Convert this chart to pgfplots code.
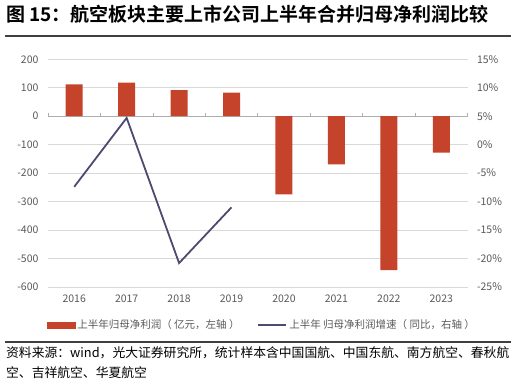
\documentclass[border=0pt]{standalone}
\usepackage{fontspec}
\usepackage{pgfplots}
\pgfplotsset{compat=1.18}
\setmainfont{Noto Sans CJK SC}[BoldFont={Noto Sans CJK SC Bold}]
\definecolor{barc}{HTML}{C5432A}
\definecolor{linec}{HTML}{4D4A70}
\definecolor{tickc}{HTML}{595959}
\definecolor{gridc}{HTML}{D9D9D9}
\definecolor{rulec}{HTML}{404040}
\begin{document}
\begin{tikzpicture}
\useasboundingbox (0,0) rectangle (516bp,381bp);
\node[anchor=west, inner sep=0, font=\fontsize{19bp}{21bp}\selectfont\bfseries] at (6bp,367bp) {图 15：航空板块主要上市公司上半年合并归母净利润比较};
\draw[rulec, line width=1.2bp] (5bp,345bp) -- (511bp,345bp);
\draw[rulec, line width=1.2bp] (5bp,39bp) -- (511bp,39bp);
\node[anchor=west, inner sep=0, font=\fontsize{12.8bp}{15bp}\selectfont] at (6bp,28bp) {资料来源：wind，光大证券研究所，统计样本含中国国航、中国东航、南方航空、春秋航};
\node[anchor=west, inner sep=0, font=\fontsize{12.8bp}{15bp}\selectfont] at (6bp,8bp) {空、吉祥航空、华夏航空};

\begin{axis}[
  at={(48bp,94bp)}, anchor=south west,
  scale only axis, width=419.5bp, height=227.7bp,
  xmin=-0.5, xmax=7.5, ymin=-600, ymax=200,
  xtick={0,...,7}, xticklabels={2016,2017,2018,2019,2020,2021,2022,2023},
  ytick={-600,-500,...,200},
  axis line style={draw=none}, major tick length=0,
  ymajorgrids, grid style={gridc, line width=0.8bp},
  tick label style={font=\fontsize{10.5bp}{12bp}\selectfont, text=tickc},
  /pgf/number format/assume math mode=true,
  yticklabel style={xshift=-6bp},
  xticklabel style={yshift=-4bp},
  clip=false,
]
\draw[gridc!80!black, line width=0.8bp] (axis cs:-0.5,0) -- (axis cs:7.5,0);
\pgfplotsinvokeforeach{-0.5,0.5,1.5,2.5,3.5,4.5,5.5,6.5,7.5}{
  \draw[gridc!80!black, line width=0.6bp] (axis cs:#1,0) -- ([yshift=3bp]axis cs:#1,0);
}
\addplot[ybar, bar width=17bp, fill=barc, draw=none] coordinates {
  (0,112) (1,118) (2,92) (3,83) (4,-275) (5,-169) (6,-541) (7,-128)
};
\end{axis}

\begin{axis}[
  at={(48bp,94bp)}, anchor=south west,
  scale only axis, width=419.5bp, height=227.7bp,
  xmin=-0.5, xmax=7.5, ymin=-25, ymax=15,
  ytick={-25,-20,...,15},
  axis y line*=right, hide x axis,
  axis line style={draw=none}, major tick length=0,
  yticklabel={\pgfmathprintnumber{\tick}\%},
  tick label style={font=\fontsize{10.5bp}{12bp}\selectfont, text=tickc},
  /pgf/number format/assume math mode=true,
  yticklabel style={xshift=6bp},
  legend columns=2,
  legend style={at={(0.51,-0.167)}, anchor=center, draw=none, fill=none,
    font=\fontsize{10.5bp}{12bp}\selectfont, text=tickc,
    /tikz/every even column/.append style={column sep=16bp}},
]
\addlegendimage{legend image code/.code={\fill[barc] (0bp,-3bp) rectangle (28bp,3bp);}}
\addlegendentry{上半年归母净利润（ 亿元，左轴 ）}
\addplot[linec, line width=1.8bp, legend image code/.code={\draw[linec, line width=1.8bp] (0bp,0bp) -- (28bp,0bp);}] coordinates {
  (0,-7.4) (1,4.7) (2,-20.8) (3,-11.0)
};
\addlegendentry{上半年 归母净利润增速（ 同比，右轴 ）}
\end{axis}
\end{tikzpicture}
\end{document}
